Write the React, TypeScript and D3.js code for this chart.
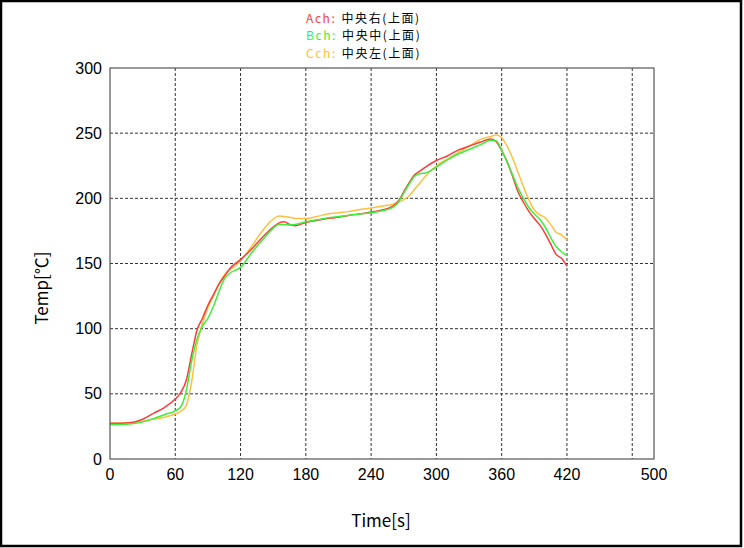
import React from "react";
import * as d3 from "d3";

const times = [0, 10, 20, 30, 40, 50, 60, 65, 70, 75, 80, 85, 90, 95, 100, 105, 110, 120, 130, 140, 150, 155, 160, 165, 170, 180, 190, 200, 210, 220, 230, 240, 250, 260, 265, 270, 275, 280, 285, 290, 300, 310, 320, 330, 340, 350, 355, 360, 365, 370, 375, 380, 385, 390, 395, 400, 405, 410, 415, 420];

const aCh = [27.5, 27.5, 28, 30.5, 35, 39.5, 46, 51, 60, 80, 99, 108, 118, 126, 134, 140, 146, 153, 161, 170, 178, 181, 182, 180, 179, 181.5, 183, 184.5, 185.5, 187, 188, 189.5, 191, 194, 198, 205, 212, 218, 221, 224, 229, 232.5, 237, 240, 243, 245.5, 243.5, 236.5, 228, 217, 205, 197, 190, 184.5, 179.6, 173, 165, 157, 154, 148];

const bCh = [26.5, 26.5, 27, 28.5, 31, 34, 37, 40, 52, 75, 92, 102, 108, 117, 128, 138, 142.5, 147, 158, 168, 177, 180, 180, 179.5, 180, 182, 183.5, 185, 186, 187, 188, 189, 190.5, 193, 197, 204, 211, 217, 219, 219.5, 224, 229.5, 234, 237.5, 241, 244.5, 244, 237, 228, 218, 208, 200, 193, 188, 184, 178, 170, 163, 159, 156];

const cCh = [27.5, 27.5, 28, 29, 30.5, 32, 34.5, 36.5, 41, 59, 88, 104, 116, 125, 134, 141, 145, 152, 163, 175, 184, 186.5, 186, 185.5, 184.5, 184.5, 186, 188, 189, 190, 191.5, 192.5, 194, 195.5, 197, 199, 202, 207, 212, 217, 225, 230, 235, 240, 245, 247.5, 248.5, 246.5, 240, 231, 220, 209, 199, 191, 187.5, 185, 180, 174, 172, 168];

const seriesNames = ["Ach", "Bch", "Cch"];
const seriesLabels = ["中央右(上面)", "中央中(上面)", "中央左(上面)"];
const seriesColors = ["#ff3a3a", "#3af03a", "#ffc040"];
const seriesValues = [aCh, bCh, cCh];

const xTickLabels = [0, 60, 120, 180, 240, 300, 360, 420, 500];
const xGrid = [60, 120, 180, 240, 300, 360, 420, 480];
const yTicks = [0, 50, 100, 150, 200, 250, 300];

export default function App() {
  const W = 744;
  const H = 548;
  const left = 110;
  const right = 654;
  const top = 68;
  const bottom = 459;

  const x = d3.scaleLinear().domain([0, 500]).range([left, right]);
  const y = d3.scaleLinear().domain([0, 300]).range([bottom, top]);

  const line = d3
    .line<number>()
    .x((_, i) => x(times[i]))
    .y((d) => y(d))
    .curve(d3.curveMonotoneX);

  const numFont = "'Liberation Sans Narrow', 'Arial Narrow', 'Liberation Sans', Arial, sans-serif";
  const jpFont = "'Noto Sans CJK JP', 'Noto Sans', sans-serif";

  const drawOrder = [2, 0, 1];

  return (
    <svg
      width={W}
      height={H}
      style={{ position: "absolute", left: 0, top: 0, display: "block", background: "#fff" }}
    >
      <rect x={1} y={1} width={740} height={545} fill="#fff" stroke="#000" strokeWidth={2.5} />

      {/* legend */}
      {seriesNames.map((n, i) => (
        <text
          key={n}
          x={306}
          y={22.5 + i * 17.5}
          fontFamily={jpFont}
          fontSize={12}
          letterSpacing={1.6}
        >
          <tspan fill={seriesColors[i]}>{n}:</tspan>
          <tspan fill="#000" dx={5}>{seriesLabels[i]}</tspan>
        </text>
      ))}

      {/* grid */}
      {xGrid.map((t) => (
        <line
          key={"gx" + t}
          x1={x(t)}
          x2={x(t)}
          y1={top}
          y2={bottom}
          stroke="#333"
          strokeWidth={1}
          strokeDasharray="3,2"
        />
      ))}
      {yTicks
        .filter((v) => v > 0 && v < 300)
        .map((v) => (
          <line
            key={"gy" + v}
            x1={left}
            x2={right}
            y1={y(v)}
            y2={y(v)}
            stroke="#333"
            strokeWidth={1}
            strokeDasharray="3,2"
          />
        ))}

      {/* series */}
      {drawOrder.map((i) => (
        <path
          key={seriesNames[i]}
          d={line(seriesValues[i]) || ""}
          fill="none"
          stroke={seriesColors[i]}
          strokeWidth={1.5}
        />
      ))}

      {/* frame */}
      <rect
        x={left}
        y={top}
        width={right - left}
        height={bottom - top}
        fill="none"
        stroke="#555"
        strokeWidth={1.2}
      />

      {/* y tick labels */}
      {yTicks.map((v) => (
        <text
          key={"yl" + v}
          x={102}
          y={y(v) + 5.5}
          textAnchor="end"
          fontFamily={numFont}
          fontSize={16}
          fill="#000"
        >
          {v}
        </text>
      ))}

      {/* x tick labels */}
      {xTickLabels.map((v) => (
        <text
          key={"xl" + v}
          x={x(v)}
          y={480}
          textAnchor="middle"
          fontFamily={numFont}
          fontSize={16}
          fill="#000"
        >
          {v}
        </text>
      ))}

      {/* axis titles */}
      <text
        x={381}
        y={527}
        textAnchor="middle"
        fontFamily={jpFont}
        fontSize={17}
        fill="#000"
      >
        Time[s]
      </text>
      <text
        transform={`translate(48,288) rotate(-90)`}
        textAnchor="middle"
        fontFamily={jpFont}
        fontSize={17}
        fill="#000"
      >
        Temp[℃]
      </text>
    </svg>
  );
}
